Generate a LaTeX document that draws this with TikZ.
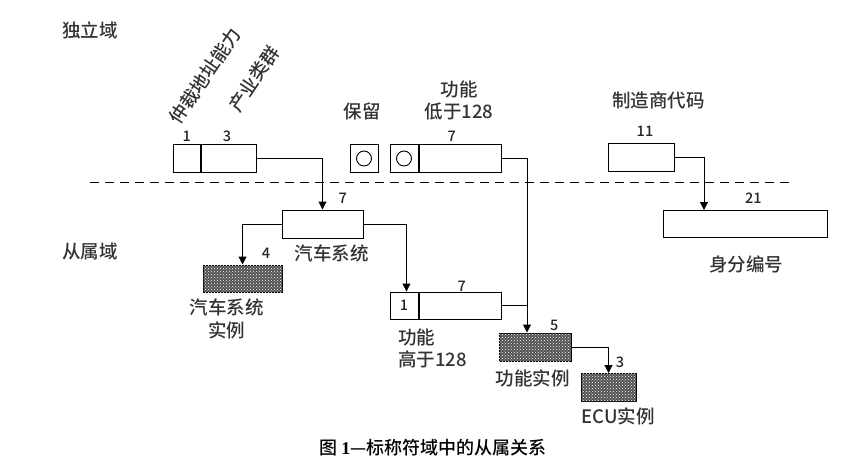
\documentclass[tikz,border=0pt]{standalone}
\usepackage{fontspec}
\setmainfont{Noto Sans CJK SC}[UprightFont=* Medium, BoldFont=* Bold]
\newfontfamily\capfont{Liberation Serif}
\usetikzlibrary{arrows.meta,positioning,patterns}
\tikzset{
  field/.style={
    draw,
    line width=1pt,
    minimum height=28pt,
    inner sep=0pt,
    fill=white
  },
  fieldh/.style={
    draw,
    line width=1pt,
    minimum height=28pt,
    inner sep=0pt,
    fill=black!68,
    postaction={pattern=crosshatch dots, pattern color=white}
  },
  lab/.style={
    font=\fontsize{18.5}{22.5}\selectfont,
    text=black!80,
    inner sep=0pt,
    align=center
  },
  num/.style={
    font=\fontsize{14.5}{16}\selectfont,
    text=black!85,
    inner sep=0pt
  },
  ring/.style={draw, circle, line width=0.9pt, minimum size=15pt, inner sep=0pt},
  flow/.style={-{Triangle[width=8pt,length=8pt]}, line width=1pt},
  wire/.style={line width=1pt}
}

\begin{document}
\begin{tikzpicture}[x=1pt,y=-1pt]
  \useasboundingbox (0,0) rectangle (847,471);

  % domains
  \node[lab] (indep) at (90,30) {独立域};
  \node[lab] (dep) at (90,251) {从属域};
  \draw[line width=1pt, dash pattern=on 9pt off 6pt] (90,182.7) -- (794,182.7);

  % independent fields
  \node[field, minimum width=27pt] (arb1) at (186.5,158.5) {};
  \node[field, minimum width=55pt, right=0pt of arb1] (arb2) {};
  \node[field, minimum width=28pt] (rsv) at (364,158.5) {};
  \node[ring] (rsvring) at (rsv) {};
  \node[field, minimum width=28pt] (flo1) at (404,158.5) {};
  \node[ring] (floring) at (flo1) {};
  \node[field, minimum width=82pt, right=0pt of flo1] (flo2) {};
  \node[field, minimum width=66pt] (mfr) at (641,157) {};

  % dependent fields
  \node[field, minimum width=81pt] (vsys) at (322.5,224) {};
  \node[fieldh, minimum width=79pt, minimum height=27pt] (vinst) at (242.5,278.5) {};
  \node[field, num, minimum width=28pt, minimum height=27pt] (fhi1) at (404,305.5) {1};
  \node[field, minimum width=82pt, minimum height=27pt, right=0pt of fhi1] (fhi2) {};
  \node[fieldh, minimum width=72pt] (finst) at (535,347) {};
  \node[fieldh, minimum width=55pt] (ecu) at (608.5,387.5) {};
  \node[field, minimum width=164pt, minimum height=27pt] (ident) at (745,224) {};

  % bit counts
  \node[num] (narb1) at (186.7,136.7) {1};
  \node[num] (narb2) at (227,136.7) {3};
  \node[num] (nflo) at (451.7,136) {7};
  \node[num] (nmfr) at (645,131.7) {11};
  \node[num] (nvsys) at (342.7,198.3) {7};
  \node[num] (nvinst) at (266,253.3) {4};
  \node[num] (nfhi) at (461.7,286) {7};
  \node[num] (nfinst) at (554.3,325) {5};
  \node[num] (necu) at (620,362.7) {3};
  \node[num] (nident) at (753.3,198.3) {21};

  % names
  \node[lab, rotate=56] (tarb) at (205,76) {仲裁地址能力};
  \node[lab, rotate=56] (tind) at (254,79) {产业类群};
  \node[lab] (trsv) at (362,111.7) {保留};
  \node[lab] (tflo) at (459,100.3) {功能\\低于128};
  \node[lab] (tmfr) at (658.3,100) {制造商代码};
  \node[lab] (tvsys) at (331.7,253.3) {汽车系统};
  \node[lab] (tvinst) at (226.7,319) {汽车系统\\实例};
  \node[lab, align=left, anchor=west] (tfhi) at (398,348.3) {功能\\高于128};
  \node[lab] (tfinst) at (532.7,378.3) {功能实例};
  \node[lab] (tecu) at (618,416.5) {ECU实例};
  \node[lab] (tident) at (746,264.3) {身分编号};

  \node[font=\fontsize{18}{20}\selectfont, inner sep=0pt] (cap) at (433,448)
    {图 {\capfont\bfseries 1}—标称符域中的从属关系};

  % links
  \coordinate (fjoin) at ([xshift=-8pt]finst.north);
  \coordinate (ijoin) at ([xshift=-41pt]ident.north);

  \draw[flow] (arb2.east) -| (vsys.north);
  \draw[flow] (flo2.east) -| (fjoin);
  \draw[wire] (fhi2.east) -- (fhi2.east -| fjoin);
  \draw[flow] (vsys.west) -| (vinst.north);
  \draw[flow] (vsys.east) -| ([xshift=2.5pt]fhi1.north);
  \draw[flow] (finst.east) -| (ecu.north);
  \draw[flow] (mfr.east) -| (ijoin);
\end{tikzpicture}
\end{document}
